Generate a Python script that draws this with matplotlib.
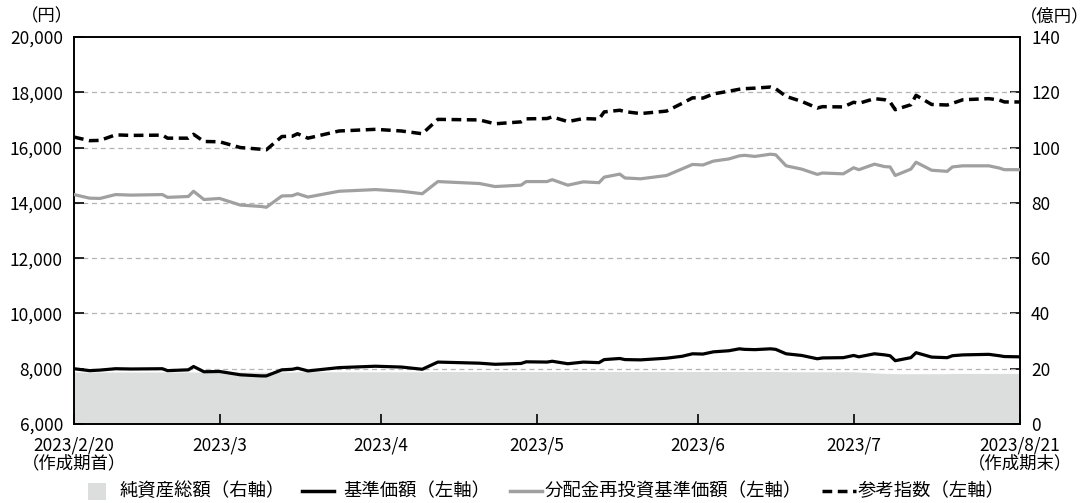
import matplotlib
matplotlib.use("Agg")
import matplotlib.pyplot as plt
from matplotlib.lines import Line2D
from matplotlib.patches import Rectangle
import pandas as pd

plt.rcParams['font.family'] = ['Noto Sans CJK JP', 'DejaVu Sans']

dates = ["2023-02-20", "2023-02-23", "2023-02-25", "2023-02-28", "2023-03-03", "2023-03-09",
         "2023-03-10", "2023-03-14", "2023-03-15", "2023-03-17", "2023-03-20", "2023-03-24",
         "2023-03-28", "2023-03-29", "2023-04-01", "2023-04-03", "2023-04-04", "2023-04-06",
         "2023-04-12", "2023-04-19", "2023-04-24", "2023-04-28", "2023-05-01", "2023-05-09",
         "2023-05-12", "2023-05-17", "2023-05-18", "2023-05-22", "2023-05-23", "2023-05-26",
         "2023-05-29", "2023-06-01", "2023-06-02", "2023-06-05", "2023-06-06", "2023-06-09",
         "2023-06-14", "2023-06-17", "2023-06-19", "2023-06-21", "2023-06-23", "2023-06-26",
         "2023-06-28", "2023-06-29", "2023-07-01", "2023-07-04", "2023-07-05", "2023-07-07",
         "2023-07-10", "2023-07-13", "2023-07-14", "2023-07-18", "2023-07-20", "2023-07-21",
         "2023-07-24", "2023-07-26", "2023-07-27", "2023-07-28", "2023-07-31", "2023-08-01",
         "2023-08-04", "2023-08-07", "2023-08-08", "2023-08-10", "2023-08-15", "2023-08-17",
         "2023-08-18", "2023-08-21"]

nav = [8000, 7930, 7950, 8000, 7990, 8000, 7930, 7960, 8080, 7890, 7900, 7780,
       7740, 7740, 7960, 7980, 8020, 7920, 8040, 8090, 8060, 7980, 8240, 8200,
       8160, 8190, 8250, 8240, 8270, 8180, 8240, 8220, 8330, 8370, 8330, 8320,
       8380, 8450, 8540, 8530, 8610, 8650, 8720, 8700, 8690, 8720, 8700, 8540,
       8480, 8360, 8390, 8400, 8480, 8430, 8540, 8500, 8470, 8290, 8400, 8580,
       8420, 8400, 8470, 8500, 8520, 8470, 8440, 8430]

nav_reinv = [14300, 14170, 14160, 14300, 14280, 14300, 14200, 14230, 14420, 14120, 14160, 13920,
             13870, 13840, 14250, 14260, 14330, 14210, 14420, 14480, 14420, 14330, 14770, 14700,
             14590, 14640, 14770, 14770, 14840, 14640, 14760, 14730, 14930, 15040, 14900, 14870,
             14990, 15230, 15390, 15370, 15510, 15590, 15700, 15720, 15680, 15760, 15740, 15340,
             15220, 15030, 15080, 15050, 15270, 15200, 15400, 15310, 15300, 14990, 15220, 15470,
             15180, 15140, 15300, 15340, 15340, 15260, 15200, 15200]

benchmark = [16380, 16250, 16260, 16460, 16440, 16450, 16340, 16340, 16480, 16220, 16210, 16000,
             15940, 15920, 16400, 16410, 16500, 16340, 16600, 16660, 16600, 16500, 17020, 17000,
             16860, 16930, 17040, 17050, 17110, 16940, 17050, 17030, 17290, 17350, 17300, 17230,
             17320, 17600, 17800, 17790, 17940, 18040, 18110, 18130, 18150, 18190, 18130, 17850,
             17670, 17430, 17480, 17470, 17640, 17600, 17770, 17730, 17650, 17370, 17550, 17890,
             17560, 17540, 17600, 17730, 17770, 17720, 17650, 17650]

net_assets = [18.8, 18.8, 18.8, 18.8, 18.8, 18.8, 18.8, 18.8, 18.8, 18.8, 18.8, 18.8,
              18.8, 18.8, 18.8, 18.8, 18.9, 18.9, 18.9, 18.9, 18.9, 18.9, 19.0, 19.0,
              19.0, 19.0, 19.0, 19.0, 19.0, 19.0, 19.0, 19.0, 19.0, 19.0, 19.0, 19.0,
              19.0, 19.0, 19.0, 19.0, 19.0, 19.0, 19.0, 19.0, 19.0, 19.0, 19.0, 18.9,
              18.9, 18.9, 18.9, 18.9, 18.9, 18.8, 18.5, 18.3, 18.3, 18.2, 18.2, 18.2,
              18.2, 18.2, 18.3, 18.3, 18.3, 18.3, 18.3, 18.3]

xtick_dates = ["2023-02-20", "2023-03-20", "2023-04-20", "2023-05-20", "2023-06-20",
               "2023-07-20", "2023-08-21"]
xtick_labels = ["2023/2/20\n（作成期首）", "2023/3", "2023/4", "2023/5", "2023/6",
                "2023/7", "2023/8/21\n（作成期末）"]
left_ticks = [6000, 8000, 10000, 12000, 14000, 16000, 18000, 20000]
right_ticks = [0, 20, 40, 60, 80, 100, 120, 140]
legend_labels = ["純資産総額（右軸）", "基準価額（左軸）", "分配金再投資基準価額（左軸）", "参考指数（左軸）"]

W, H = 1088, 503
x = pd.to_datetime(dates)
xt = pd.to_datetime(xtick_dates)

FILL = "#dcdddd"
GRAY = "#a0a0a0"
DASH = (0, (2.8, 1.6))

fig = plt.figure(figsize=(W / 100, H / 100), dpi=100)
ax = fig.add_axes([74 / W, 1 - 424 / H, (1020 - 74) / W, (424 - 37) / H])
ax2 = ax.twinx()

FS = 12.5
# right axis: net assets fill (drawn behind)
ax2.fill_between(x, 0, net_assets, color=FILL, linewidth=0, zorder=1)
ax2.set_ylim(0, 140)
ax2.set_yticks(right_ticks)
ax2.set_yticklabels([str(v) for v in right_ticks], fontsize=FS)
ax2.tick_params(axis='y', direction='in', length=7, width=1.2, pad=8)

# put left axis on top
ax.set_zorder(ax2.get_zorder() + 1)
ax.patch.set_visible(False)

for v in left_ticks[1:-1]:
    ax.axhline(v, color="#b4b4b4", linewidth=0.9, linestyle=(0, (4, 3)), zorder=1)

ax.plot(x, nav_reinv, color=GRAY, linewidth=2.3, zorder=3)
ax.plot(x, nav, color="#000000", linewidth=2.3, zorder=4)
ax.plot(x, benchmark, color="#000000", linewidth=2.5, linestyle=DASH, zorder=4)

ax.set_ylim(6000, 20000)
ax.set_yticks(left_ticks)
ax.set_yticklabels([f"{v:,}" for v in left_ticks], fontsize=FS)
ax.tick_params(axis='y', direction='in', length=7, width=1.2, pad=8)
ax.set_xlim(x[0], x[-1])
ax.set_xticks(xt)
ax.set_xticklabels(xtick_labels, fontsize=FS, linespacing=1.0)
ax.tick_params(axis='x', direction='in', length=7, width=1.2, pad=9)
ax2.tick_params(axis='x', length=0)

for a in (ax, ax2):
    for s in a.spines.values():
        s.set_linewidth(1.2)
        s.set_color("#000000")

fig.text(47 / W, 1 - 16 / H, "（円）", fontsize=FS, ha='center', va='center')
fig.text(1055 / W, 1 - 16 / H, "（億円）", fontsize=FS, ha='center', va='center')

# legend, laid out in figure pixels
ly = 1 - 491 / H
fig.patches.append(Rectangle((88 / W, 1 - 500 / H), 18 / W, 17 / H, transform=fig.transFigure,
                             facecolor=FILL, edgecolor='none'))
fig.lines.append(Line2D([302 / W, 334 / W], [ly, ly], transform=fig.transFigure,
                        color="#000000", linewidth=2.5))
fig.lines.append(Line2D([510 / W, 542 / W], [ly, ly], transform=fig.transFigure,
                        color=GRAY, linewidth=2.5))
fig.lines.append(Line2D([822 / W, 856 / W], [ly, ly], transform=fig.transFigure,
                        color="#000000", linewidth=2.5, linestyle=DASH))
for lx, lab in zip([120, 343, 545, 858], legend_labels):
    fig.text(lx / W, ly, lab, fontsize=13.2, ha='left', va='center')

fig.savefig("out.png", dpi=100)
